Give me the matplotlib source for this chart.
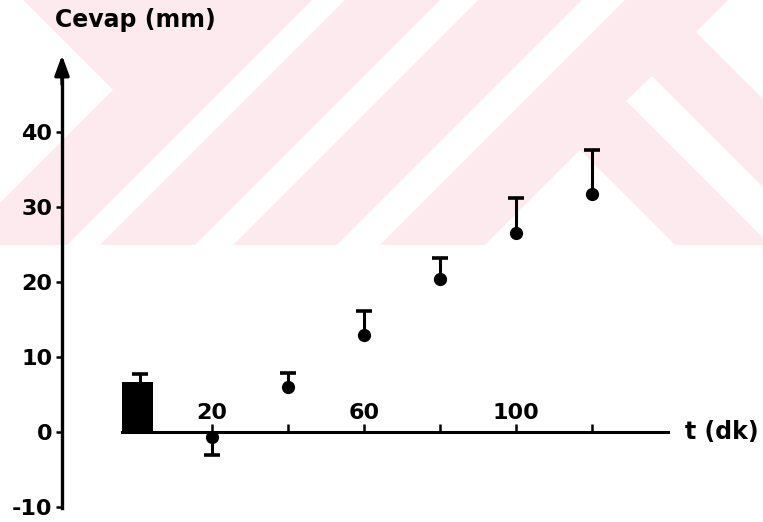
import matplotlib
matplotlib.use("Agg")
import matplotlib.pyplot as plt
import numpy as np
from matplotlib.patches import Polygon

# olculen degerler
t_dk = [20, 40, 60, 80, 100, 120]
cevap = [-0.7, 6.0, 13.0, 20.4, 26.5, 31.7]
hata_ust = [0.0, 1.9, 3.1, 2.8, 4.7, 5.9]
hata_alt = [2.4, 0.0, 0.0, 0.0, 0.0, 0.0]

# kontrol (t=0) sutunu
kontrol = 6.7
kontrol_hata = 1.0

y_ticks = [-10, 0, 10, 20, 30, 40]
x_major = [20, 60, 100]
x_minor = [40, 80, 120]

PINK = "#fdeaee"
FONT = dict(family="DejaVu Sans", weight="bold")


# arka plandaki soluk filigran (piksel koordinatlari, y asagi dogru)
def draw_watermark(fig):
    bg = fig.add_axes([0, 0, 1, 1], zorder=-5)
    bg.set_xlim(0, 763)
    bg.set_ylim(522, 0)
    bg.axis("off")
    bg.add_patch(Polygon([(0, 0), (763, 0), (763, 245), (0, 245)],
                         closed=True, color=PINK, lw=0))
    white = [
        [(0, 0), (23, 0), (113, 90), (0, 203)],
        [(312, 0), (345, 0), (100, 245), (67, 245)],
        [(440, 0), (478, 0), (233, 245), (195, 245)],
        [(582, 0), (625, 0), (380, 245), (337, 245)],
        [(580, 150), (485, 245), (675, 245)],
        [(626, 101), (652, 76), (763, 187), (763, 238)],
        [(696, 32), (728, 0), (763, 0), (763, 99)],
    ]
    for pts in white:
        bg.add_patch(Polygon(pts, closed=True, color="white", lw=0))


fig = plt.figure(figsize=(7.63, 5.22), dpi=100)
draw_watermark(fig)

ax = fig.add_axes([0, 0, 1, 1])
ax.set_facecolor("none")
# 1 birim t = 3.8 px, 1 birim cevap = 7.5 px
ax.set_xlim(-136 / 3.8, (763 - 136) / 3.8)
ax.set_ylim((432 - 522) / 7.5, 432 / 7.5)

y_axis_x = (62 - 136) / 3.8

# eksenler
for s in ["top", "right"]:
    ax.spines[s].set_visible(False)
ax.spines["left"].set_position(("data", y_axis_x))
ax.spines["left"].set_bounds(-10.1, 48)
ax.spines["left"].set_linewidth(2.4)
ax.spines["bottom"].set_position(("data", 0))
ax.spines["bottom"].set_bounds(-3.7, 140)
ax.spines["bottom"].set_linewidth(2.2)
ax.annotate("", xy=(y_axis_x, 50.6), xytext=(y_axis_x, 46),
            arrowprops=dict(arrowstyle="-|>,head_length=0.6,head_width=0.22",
                            mutation_scale=20, color="black", lw=2.4))

ax.set_yticks(y_ticks)
ax.set_yticklabels([str(v) for v in y_ticks], fontsize=16, **FONT)
ax.tick_params(axis="y", direction="out", length=4, width=1.8, pad=3)

ax.set_xticks(x_major)
ax.set_xticklabels([str(v) for v in x_major], fontsize=16, **FONT)
ax.set_xticks(x_minor, minor=True)
ax.tick_params(axis="x", which="both", direction="in", length=6, width=1.8, pad=-21)

# kontrol sutunu
ax.bar(0.4, kontrol, width=8.2, color="black", zorder=3)
_, caps, _ = ax.errorbar(1.0, kontrol, yerr=[[0], [kontrol_hata]], fmt="none",
                         ecolor="black", elinewidth=2.2, capsize=6, capthick=2.6)
caps[0].set_visible(False)

# zamana gore noktalar
t = np.array(t_dk)
y = np.array(cevap)
up = np.array(hata_ust) > 0
down = np.array(hata_alt) > 0

_, caps, _ = ax.errorbar(t[up], y[up], yerr=[np.zeros(up.sum()), np.array(hata_ust)[up]],
                         fmt="o", color="black", ms=8.5, elinewidth=2.2,
                         capsize=6, capthick=2.6, zorder=4)
caps[0].set_visible(False)
_, caps, _ = ax.errorbar(t[down], y[down], yerr=[np.array(hata_alt)[down], np.zeros(down.sum())],
                         fmt="o", color="black", ms=8.5, elinewidth=2.2,
                         capsize=6, capthick=2.6, zorder=4)
caps[1].set_visible(False)

# eksen basliklari
ax.text(y_axis_x - 1.8, 54.0, "Cevap (mm)", fontsize=17, ha="left", va="baseline", **FONT)
ax.text(144.5, 0, "t (dk)", fontsize=17, ha="left", va="center", **FONT)

fig.savefig("out.png", dpi=100)
